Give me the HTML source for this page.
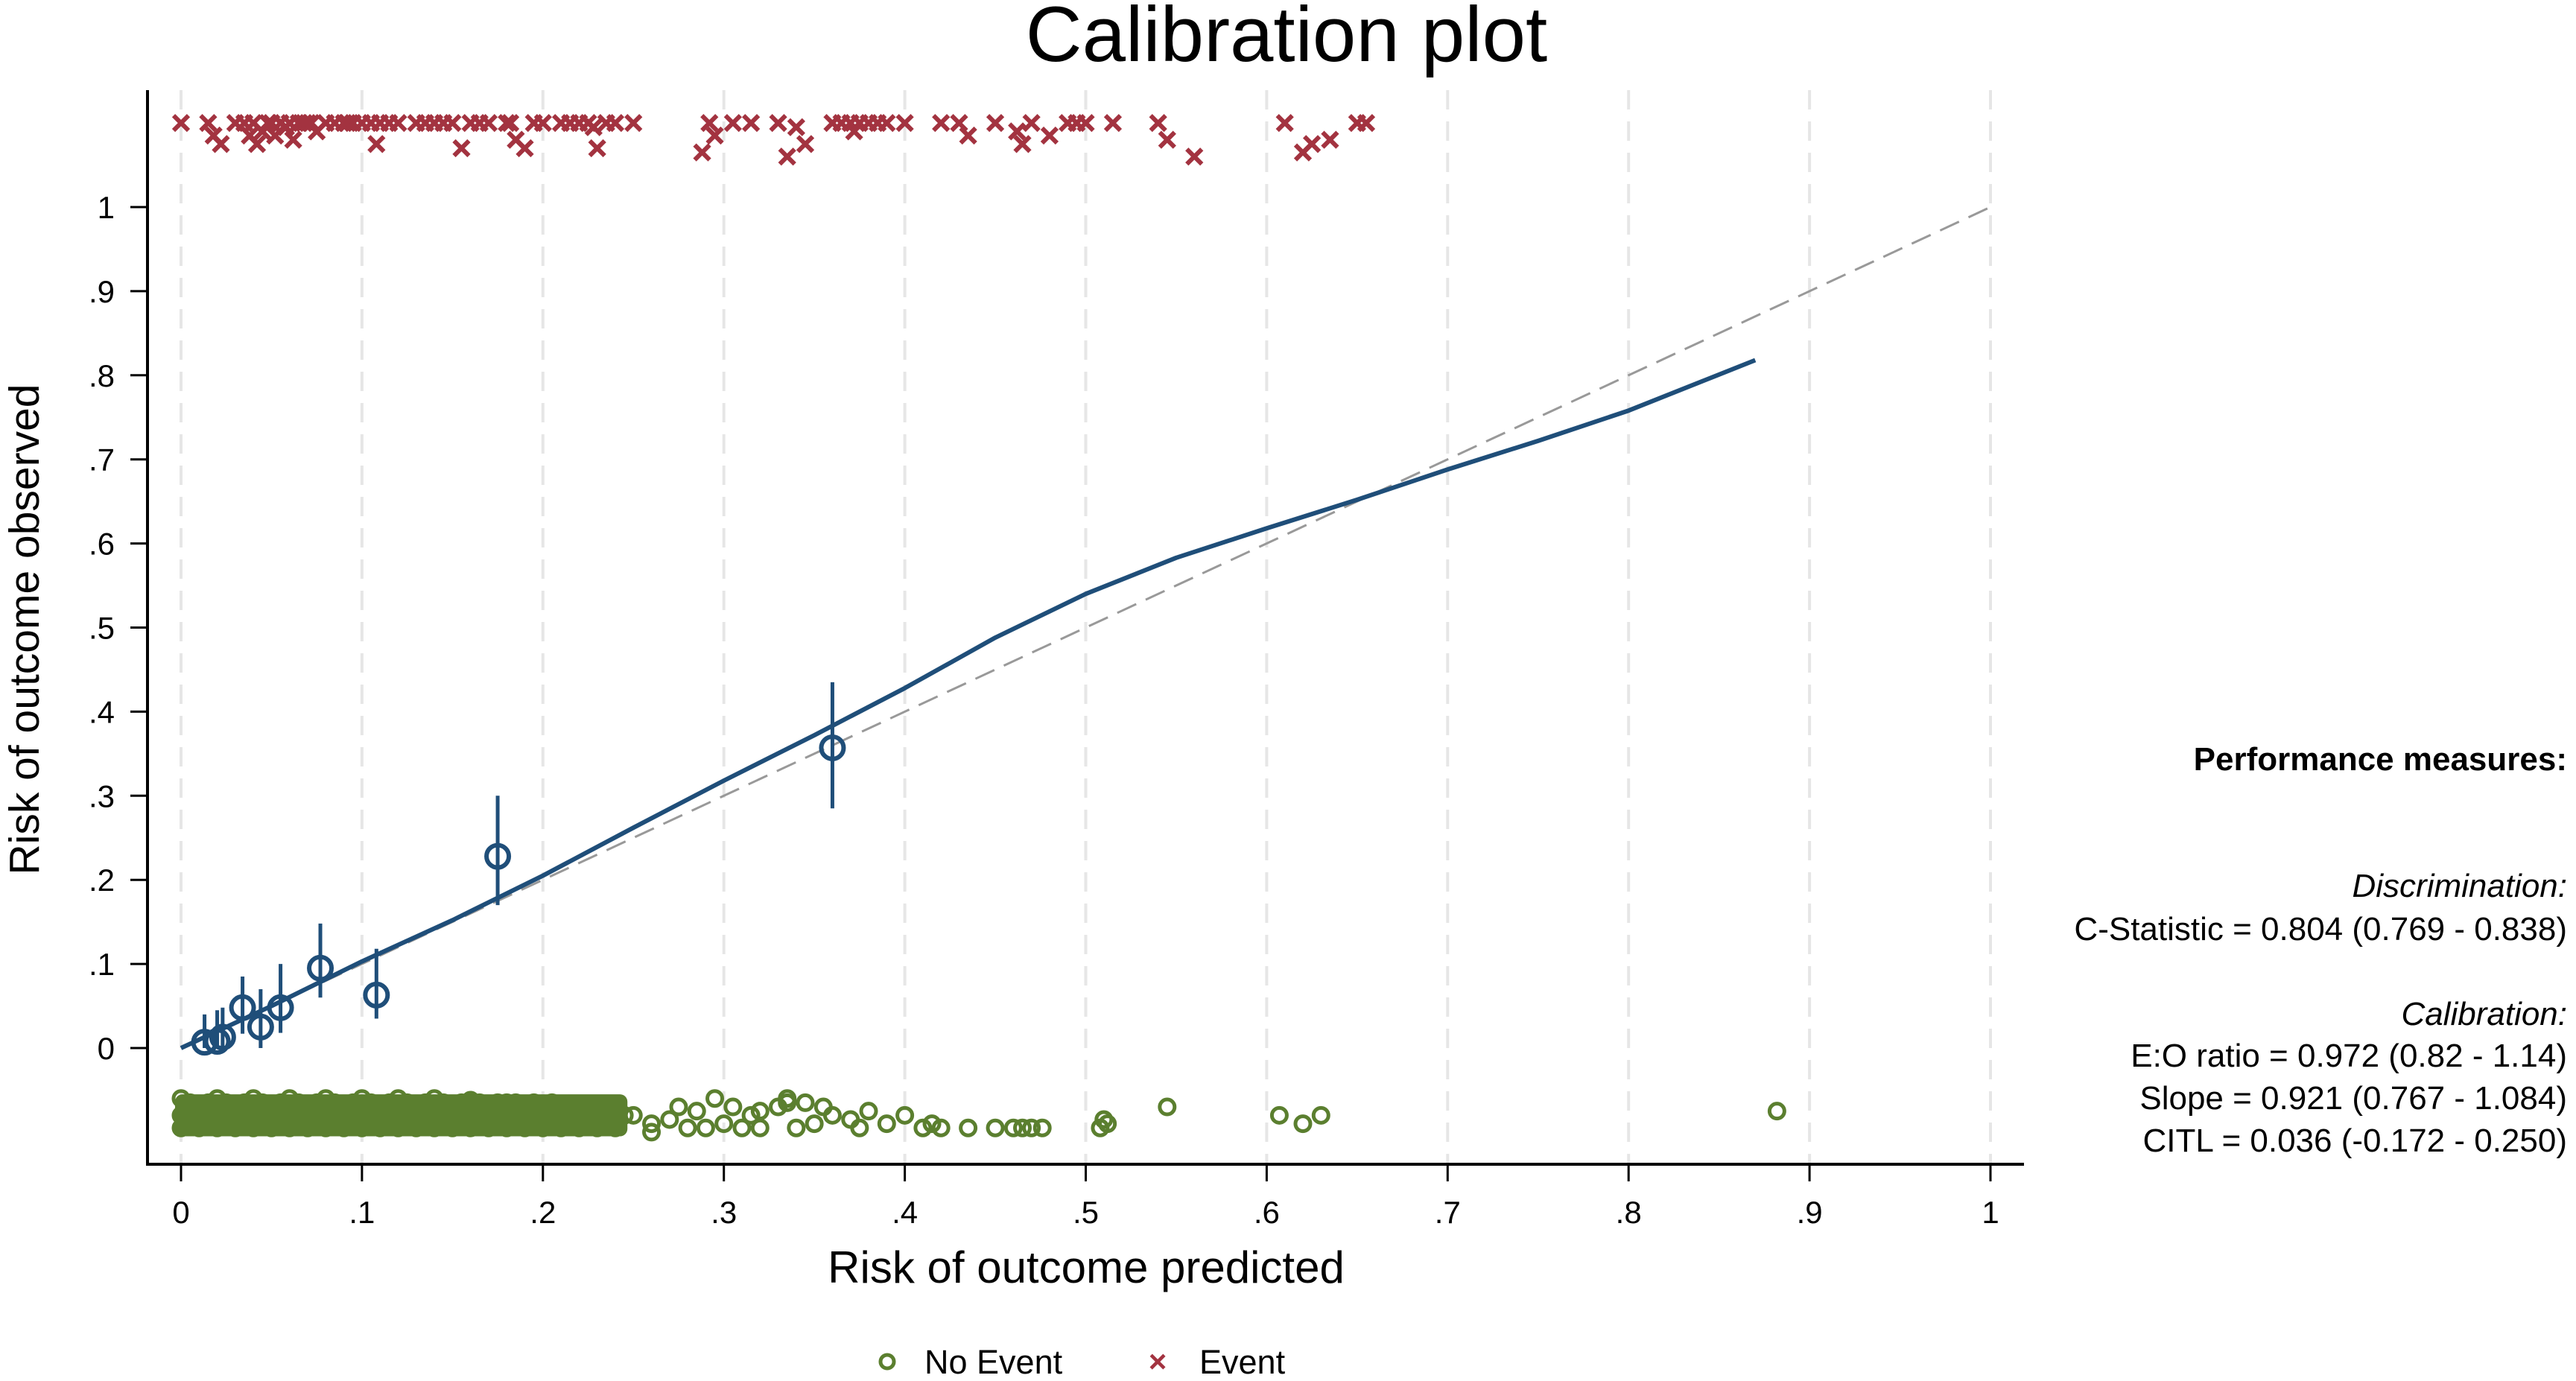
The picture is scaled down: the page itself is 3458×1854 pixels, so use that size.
<!DOCTYPE html>
<html><head><meta charset="utf-8"><style>
html,body{margin:0;padding:0;background:#fff}
svg{display:block;font-family:"Liberation Sans",sans-serif}
</style></head><body>
<svg id="chart" width="3458" height="1854" viewBox="0 0 3458 1854" xmlns="http://www.w3.org/2000/svg">
<rect width="3458" height="1854" fill="#fff"/>
<text x="1727" y="82" font-size="105" text-anchor="middle" fill="#000">Calibration plot</text>
<g id="grid"></g>
<g id="axes"></g>
<g id="marks"></g>
<text x="1458" y="1722" font-size="60" text-anchor="middle">Risk of outcome predicted</text>
<text transform="translate(52,845) rotate(-90)" font-size="57" text-anchor="middle">Risk of outcome observed</text>
<g>
<circle cx="1191" cy="1828" r="9" fill="none" stroke="#5b7f2f" stroke-width="5"/>
<text x="1241" y="1844" font-size="45">No Event</text>
<text x="1554" y="1842" font-size="42" fill="#a33340" text-anchor="middle" font-weight="bold">×</text>
<text x="1610" y="1844" font-size="45">Event</text>
</g>
<g font-size="44" text-anchor="end">
<text x="3446" y="1034" font-weight="bold">Performance measures:</text>
<text x="3446" y="1204" font-style="italic">Discrimination:</text>
<text x="3446" y="1262">C-Statistic = 0.804 (0.769 - 0.838)</text>
<text x="3446" y="1376" font-style="italic">Calibration:</text>
<text x="3446" y="1432">E:O ratio = 0.972 (0.82 - 1.14)</text>
<text x="3446" y="1489">Slope = 0.921 (0.767 - 1.084)</text>
<text x="3446" y="1546">CITL = 0.036 (-0.172 - 0.250)</text>
</g>
</svg>
<script>
const xTicks=[0,0.1,0.2,0.3,0.4,0.5,0.6,0.7,0.8,0.9,1];
const xTickLabels=["0",".1",".2",".3",".4",".5",".6",".7",".8",".9","1"];
const yTicks=[0,0.1,0.2,0.3,0.4,0.5,0.6,0.7,0.8,0.9,1];
const yTickLabels=["0",".1",".2",".3",".4",".5",".6",".7",".8",".9","1"];
const groupPred=[0.013,0.02,0.023,0.034,0.044,0.055,0.077,0.108,0.175,0.36];
const groupObs=[0.007,0.008,0.013,0.048,0.025,0.048,0.095,0.063,0.228,0.357];
const groupLo=[0.0,0.0,0.0,0.017,0.0,0.018,0.06,0.035,0.17,0.285];
const groupHi=[0.04,0.045,0.048,0.085,0.07,0.1,0.148,0.118,0.3,0.435];
const smoothX=[0,0.05,0.1,0.15,0.2,0.25,0.3,0.35,0.4,0.45,0.5,0.55,0.6,0.65,0.7,0.75,0.8,0.87];
const smoothY=[0,0.05,0.103,0.152,0.205,0.262,0.318,0.372,0.428,0.488,0.54,0.583,0.618,0.652,0.688,0.722,0.758,0.818];
const eventX=[0.0,0.015,0.018,0.022,0.03,0.035,0.038,0.04,0.042,0.045,0.048,0.05,0.052,0.055,0.058,0.06,0.062,0.065,0.068,0.07,0.072,0.075,0.08,0.085,0.09,0.092,0.095,0.1,0.105,0.108,0.11,0.115,0.12,0.13,0.135,0.14,0.145,0.15,0.155,0.16,0.165,0.17,0.18,0.182,0.185,0.19,0.195,0.2,0.21,0.215,0.22,0.225,0.228,0.23,0.235,0.24,0.25,0.288,0.292,0.295,0.305,0.315,0.33,0.335,0.34,0.345,0.36,0.365,0.37,0.372,0.375,0.38,0.385,0.39,0.4,0.42,0.43,0.435,0.45,0.462,0.465,0.47,0.48,0.49,0.495,0.5,0.515,0.54,0.545,0.56,0.61,0.62,0.625,0.635,0.65,0.655];
const eventY=[1.1,1.1,1.085,1.075,1.1,1.1,1.085,1.1,1.075,1.09,1.1,1.1,1.085,1.1,1.095,1.1,1.08,1.1,1.1,1.1,1.1,1.09,1.1,1.1,1.1,1.1,1.1,1.1,1.1,1.075,1.1,1.1,1.1,1.1,1.1,1.1,1.1,1.1,1.07,1.1,1.1,1.1,1.1,1.1,1.08,1.07,1.1,1.1,1.1,1.1,1.1,1.1,1.095,1.07,1.1,1.1,1.1,1.065,1.1,1.085,1.1,1.1,1.1,1.06,1.095,1.075,1.1,1.1,1.1,1.09,1.1,1.1,1.1,1.1,1.1,1.1,1.1,1.085,1.1,1.09,1.075,1.1,1.085,1.1,1.1,1.1,1.1,1.1,1.08,1.06,1.1,1.065,1.075,1.08,1.1,1.1];
const noEventX=[0.0,0.005,0.01,0.015,0.02,0.025,0.03,0.035,0.04,0.045,0.05,0.055,0.06,0.065,0.07,0.075,0.08,0.085,0.09,0.095,0.1,0.105,0.11,0.115,0.12,0.125,0.13,0.135,0.14,0.145,0.15,0.155,0.16,0.165,0.17,0.175,0.18,0.185,0.19,0.195,0.2,0.205,0.21,0.215,0.22,0.225,0.23,0.235,0.24,0.245,0.25,0.0,0.01,0.02,0.03,0.04,0.05,0.06,0.07,0.08,0.09,0.1,0.11,0.12,0.13,0.14,0.15,0.16,0.17,0.18,0.19,0.2,0.21,0.22,0.23,0.24,0.005,0.015,0.025,0.035,0.045,0.055,0.065,0.075,0.085,0.095,0.105,0.115,0.125,0.135,0.145,0.155,0.165,0.175,0.185,0.195,0.205,0.215,0.225,0.235,0.0,0.02,0.04,0.06,0.08,0.1,0.12,0.14,0.16,0.18,0.2,0.22,0.26,0.27,0.28,0.285,0.29,0.3,0.305,0.31,0.315,0.32,0.33,0.335,0.34,0.345,0.35,0.36,0.37,0.375,0.38,0.39,0.4,0.41,0.415,0.42,0.435,0.45,0.46,0.465,0.47,0.476,0.508,0.51,0.512,0.545,0.607,0.62,0.63,0.882,0.26,0.275,0.295,0.32,0.335,0.355];
const noEventY=[-0.08,-0.08,-0.08,-0.08,-0.08,-0.08,-0.08,-0.08,-0.08,-0.08,-0.08,-0.08,-0.08,-0.08,-0.08,-0.08,-0.08,-0.08,-0.08,-0.08,-0.08,-0.08,-0.08,-0.08,-0.08,-0.08,-0.08,-0.08,-0.08,-0.08,-0.08,-0.08,-0.08,-0.08,-0.08,-0.08,-0.08,-0.08,-0.08,-0.08,-0.08,-0.08,-0.08,-0.08,-0.08,-0.08,-0.08,-0.08,-0.08,-0.08,-0.08,-0.095,-0.095,-0.095,-0.095,-0.095,-0.095,-0.095,-0.095,-0.095,-0.095,-0.095,-0.095,-0.095,-0.095,-0.095,-0.095,-0.095,-0.095,-0.095,-0.095,-0.095,-0.095,-0.095,-0.095,-0.095,-0.065,-0.065,-0.065,-0.065,-0.065,-0.065,-0.065,-0.065,-0.065,-0.065,-0.065,-0.065,-0.065,-0.065,-0.065,-0.065,-0.065,-0.065,-0.065,-0.065,-0.065,-0.07,-0.07,-0.075,-0.06,-0.06,-0.06,-0.06,-0.06,-0.06,-0.06,-0.06,-0.062,-0.065,-0.07,-0.068,-0.09,-0.085,-0.095,-0.075,-0.095,-0.09,-0.07,-0.095,-0.08,-0.095,-0.07,-0.06,-0.095,-0.065,-0.09,-0.08,-0.085,-0.095,-0.075,-0.09,-0.08,-0.095,-0.09,-0.095,-0.095,-0.095,-0.095,-0.095,-0.095,-0.095,-0.095,-0.085,-0.09,-0.07,-0.08,-0.09,-0.08,-0.075,-0.1,-0.07,-0.06,-0.075,-0.065,-0.07,-0.065];

const NS="http://www.w3.org/2000/svg";
const X0=243,X1=2672,Y0=1407,Y1=278;
function sx(v){return X0+(X1-X0)*v;}
function sy(v){return Y0-(Y0-Y1)*v;}
function mk(tag,attrs,parent){const e=document.createElementNS(NS,tag);for(const k in attrs)e.setAttribute(k,attrs[k]);parent.appendChild(e);return e;}
const grid=document.getElementById('grid'),axes=document.getElementById('axes'),marks=document.getElementById('marks');

xTicks.forEach((t,i)=>{
  const g=mk('line',{x1:sx(t),x2:sx(t),y1:121,y2:1563,stroke:'#e6e6e6','stroke-width':4,'stroke-dasharray':'26 16'},grid);
  
  
  const tk=mk('line',{x1:sx(t),x2:sx(t),y1:1563,y2:1586,stroke:'#000','stroke-width':3},axes);
  
  
  const lb=mk('text',{x:sx(t),y:1642,'font-size':42,'text-anchor':'middle'},axes);
  lb.textContent=xTickLabels[i];
  
  
});
yTicks.forEach((t,i)=>{
  const tk=mk('line',{x1:175,x2:198,y1:sy(t),y2:sy(t),stroke:'#000','stroke-width':3},axes);
  
  
  const lb=mk('text',{x:154,y:sy(t)+15,'font-size':42,'text-anchor':'end'},axes);
  lb.textContent=yTickLabels[i];
  
  
});
const ya=mk('line',{x1:198,x2:198,y1:121,y2:1565,stroke:'#000','stroke-width':4},axes);


const xa=mk('line',{x1:196,x2:2717,y1:1563,y2:1563,stroke:'#000','stroke-width':4},axes);



const diag=mk('line',{x1:sx(0),y1:sy(0),x2:sx(1),y2:sy(1),stroke:'#999','stroke-width':3,'stroke-dasharray':'28 14'},marks);



noEventX.forEach((v,i)=>{
  const c=mk('circle',{cx:sx(v),cy:sy(noEventY[i]),r:10,fill:'none',stroke:'#5b7f2f','stroke-width':5},marks);
  
  
});
const band=mk('rect',{x:sx(0)-8,y:sy(-0.055),width:sx(0.25)-sx(0),height:sy(-0.105)-sy(-0.055),fill:'#5b7f2f',rx:10},marks);



eventX.forEach((v,i)=>{
  const cx=sx(v),cy=sy(eventY[i]),h=10;
  const p=mk('path',{d:`M${cx-h},${cy-h}L${cx+h},${cy+h}M${cx-h},${cy+h}L${cx+h},${cy-h}`,stroke:'#a33340','stroke-width':6},marks);
  
  
});

let d='';
smoothX.forEach((v,i)=>{d+=(i?'L':'M')+sx(v)+','+sy(smoothY[i]);});
const sm=mk('path',{d:d,fill:'none',stroke:'#1f4e79','stroke-width':6,'stroke-linejoin':'round'},marks);



groupPred.forEach((v,i)=>{
  const ci=mk('line',{x1:sx(v),x2:sx(v),y1:sy(groupLo[i]),y2:sy(groupHi[i]),stroke:'#1f4e79','stroke-width':5},marks);
  
  
  const c=mk('circle',{cx:sx(v),cy:sy(groupObs[i]),r:15,fill:'none',stroke:'#1f4e79','stroke-width':6},marks);
  
  
});
</script>
</body></html>
